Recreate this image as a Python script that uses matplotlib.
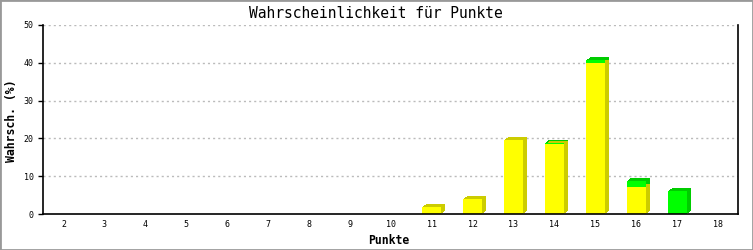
import matplotlib
matplotlib.use("Agg")
import matplotlib.pyplot as plt
import matplotlib.transforms as mtransforms
from matplotlib.patches import Rectangle

# data
punkte = [2, 3, 4, 5, 6, 7, 8, 9, 10, 11, 12, 13, 14, 15, 16, 17, 18]
gelb = [0, 0, 0, 0, 0, 0, 0, 0, 0, 1.9, 4.0, 19.6, 18.5, 40.0, 7.2, 0, 0]
gruen = [0, 0, 0, 0, 0, 0, 0, 0, 0, 0, 0, 0, 0.4, 0.7, 1.6, 6.1, 0]
y_ticks = [0, 10, 20, 30, 40, 50]

mono = "DejaVu Sans Mono"

fig = plt.figure(figsize=(7.53, 2.5), dpi=100)
ax = fig.add_axes([43 / 753, 36 / 250, 695.5 / 753, 189 / 250])

w = 0.46
# 3D depth: darker copies shifted step by step right/up behind the front face
for k in range(1, 5):
    shift = ax.transData + mtransforms.ScaledTranslation(k / 100, 0.75 * k / 100,
                                                         fig.dpi_scale_trans)
    ax.bar(punkte, gelb, width=w, color="#cccc00", transform=shift, zorder=2)
    ax.bar(punkte, gruen, width=w, bottom=gelb, color="#00cc00", transform=shift, zorder=2)
ax.bar(punkte, gelb, width=w, color="#ffff00", zorder=3)
ax.bar(punkte, gruen, width=w, bottom=gelb, color="#00ff00", zorder=3)

ax.set_xlim(1.5, 18.5)
ax.set_ylim(0, 50)
ax.set_xticks(punkte)
ax.set_xticklabels([str(p) for p in punkte], fontsize=6, family=mono)
ax.set_yticks(y_ticks)
ax.set_yticklabels([str(t) for t in y_ticks], fontsize=6, family=mono)
ax.tick_params(axis="x", length=0, pad=4)
ax.tick_params(axis="y", length=3.6, width=1, pad=3.2, direction="out")

for t in y_ticks[1:]:
    ax.axhline(t, color="#bbbbbb", lw=1, linestyle=(0, (1.5, 2.2)), zorder=1)

ax.spines["top"].set_visible(False)
for s in ["left", "right", "bottom"]:
    ax.spines[s].set_linewidth(1.2)
    ax.spines[s].set_color("black")
    ax.spines[s].set_zorder(4)

fig.text(376 / 753, 1 - 14 / 250, "Wahrscheinlichkeit für Punkte", ha="center", va="center",
         fontsize=10.5, family=mono)
fig.text(12 / 753, 1 - 121 / 250, "Wahrsch. (%)", ha="center", va="center", rotation=90,
         fontsize=8.3, family=mono, weight="bold")
fig.text(389 / 753, 1 - 240 / 250, "Punkte", ha="center", va="center",
         fontsize=8.3, family=mono, weight="bold")

fig.patches.append(Rectangle((0, 0), 1, 1, transform=fig.transFigure, fill=False,
                             edgecolor="#999999", lw=2, zorder=10))

fig.savefig("out.png", dpi=100)
